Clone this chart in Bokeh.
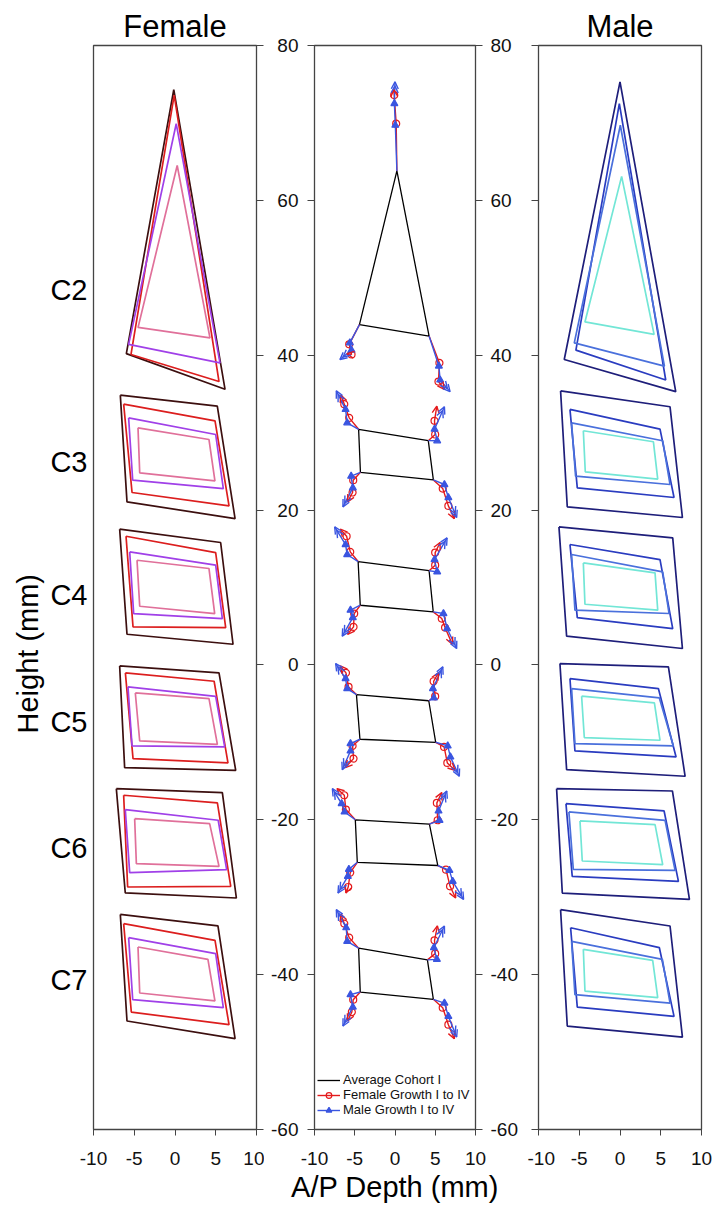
import numpy as np
from bokeh.plotting import figure
from bokeh.layouts import row
from bokeh.models import (ColumnDataSource, FixedTicker, LinearAxis, Title, Arrow,
                          OpenHead, Legend, LegendItem, Range1d, PrintfTickFormatter)
from bokeh.embed import file_html
from bokeh.resources import INLINE

FONT = "Liberation Sans"

# ---------------- data ----------------
levels = ["C2", "C3", "C4", "C5", "C6", "C7"]
level_label_y = [48.4, 26.2, 9.0, -7.4, -23.7, -40.7]
vertex_counts = [3, 4, 4, 4, 4, 4]   # C2: apex, BR, BL ; others: TL, TR, BR, BL
x_ticks = [-10, -5, 0, 5, 10]
y_ticks = [-60, -40, -20, 0, 20, 40, 60, 80]

female_I_x = [0.27, 4.29, -4.53, -4.54, 4.17, 4.90, -4.33, -4.66, 4.17, 4.87, -4.33,
              -4.87, 4.17, 5.20, -4.33, -4.95, 4.25, 5.40, -4.74, -4.54, 4.04, 4.90, -4.33]
female_I_y = [64.5, 42.25, 43.6, 30.62, 29.11, 23.78, 24.81, 13.52, 12.45, 6.63, 7.58,
              -3.62, -4.35, -10.25, -9.82, -19.85, -20.49, -26.01, -25.66, -36.43, -38.02, -43.40, -42.37]
female_II_x = [0.15, 5.52, -5.69, -5.69, 4.99, 5.93, -5.19, -5.56, 4.99, 5.81, -5.07,
               -5.77, 4.99, 6.10, -5.27, -6.10, 5.30, 6.34, -5.56, -5.69, 4.99, 5.93, -5.19]
female_II_y = [69.9, 39.0, 41.4, 31.91, 29.76, 22.78, 23.86, 14.60, 12.88, 5.99, 6.63,
               -2.84, -4.05, -10.59, -10.46, -18.68, -20.06, -26.44, -26.82, -35.22, -37.29, -44.27, -43.23]
female_III_x = [-0.10, 5.40, -5.40, -6.30, 4.91, 6.63, -5.27, -6.01, 4.99, 6.22, -5.15,
                -6.09, 4.80, 6.50, -5.15, -6.30, 5.20, 6.84, -5.81, -6.30, 4.91, 6.63, -5.36]
female_III_y = [73.6, 36.6, 40.1, 33.68, 31.53, 20.54, 22.27, 16.62, 14.51, 4.82, 4.91,
                -1.03, -2.11, -12.66, -12.10, -16.83, -17.82, -28.59, -28.68, -33.41, -35.57, -46.46, -44.83]
female_IV_x = [-0.15, 6.14, -5.97, -6.71, 5.19, 7.37, -5.89, -6.79, 5.60, 7.12, -5.89,
               -6.79, 5.40, 7.45, -6.18, -7.20, 5.81, 7.53, -6.10, -6.71, 5.27, 7.37, -5.89]
female_IV_y = [74.3, 35.6, 40.2, 34.84, 33.42, 18.90, 21.06, 17.53, 15.81, 2.67, 3.96,
               -0.13, -1.03, -13.61, -13.26, -15.97, -16.49, -30.10, -29.45, -32.21, -33.71, -48.27, -45.99]

male_I_x = [0.20, 4.18, -4.30, -4.50, 4.10, 4.63, -4.26, -4.50, 4.30, 4.63, -4.30,
            -4.71, 4.22, 4.91, -4.38, -4.91, 4.30, 5.24, -4.63, -4.50, 4.01, 4.63, -4.30]
male_I_y = [63.1, 42.7, 44.3, 30.24, 28.82, 24.00, 24.94, 13.18, 11.89, 7.07, 7.84,
            -4.04, -4.90, -9.73, -9.38, -20.15, -20.63, -25.80, -25.32, -36.73, -38.16, -42.98, -42.12]
male_II_x = [0.04, 5.45, -5.61, -5.94, 5.24, 6.14, -5.45, -5.94, 5.24, 6.02, -5.53,
             -5.94, 4.83, 6.55, -5.53, -6.27, 5.53, 6.76, -5.73, -5.94, 5.20, 6.14, -5.53]
male_II_y = [69.7, 38.6, 41.6, 31.27, 28.95, 23.30, 24.38, 14.26, 12.02, 6.64, 7.07,
             -3.05, -4.26, -10.46, -10.16, -18.99, -20.07, -26.53, -26.40, -35.70, -38.03, -43.67, -42.59]
male_III_x = [-0.08, 5.61, -5.41, -6.14, 4.91, 6.63, -5.24, -6.14, 4.91, 6.47, -5.24,
              -6.14, 4.71, 6.88, -5.53, -6.63, 5.41, 7.17, -5.86, -6.06, 4.83, 6.63, -5.24]
male_III_y = [72.5, 36.8, 40.66, 33.00, 30.45, 21.62, 22.87, 15.55, 13.61, 4.70, 6.12,
              -1.76, -3.05, -11.88, -11.11, -17.91, -18.86, -27.95, -27.30, -33.94, -36.52, -45.39, -44.19]
male_IV_x = [0.00, 6.84, -6.84, -7.29, 6.14, 7.66, -6.47, -7.49, 6.47, 7.66, -6.55,
             -7.37, 5.94, 7.99, -6.55, -7.78, 6.43, 8.52, -7.08, -7.29, 6.14, 7.66, -6.47]
male_IV_y = [75.3, 35.3, 39.45, 35.40, 33.34, 19.04, 20.42, 17.83, 16.41, 2.12, 3.71,
             0.18, -0.25, -14.38, -13.52, -15.98, -16.28, -30.27, -29.46, -31.61, -33.72, -48.06, -46.64]

female_colors = ["#e0709a", "#a040e8", "#dc1e1e", "#3c0f0f"]   # cohort I..IV
male_colors = ["#72e6d6", "#4a70dc", "#2a3cc0", "#1e1e7a"]
FEM_ARROW = "#e41a1c"
MALE_ARROW = "#3a55e0"
AX = "#444444"

# ---------------- layout constants ----------------
H = 1208
MB_TOP = 45
FRAME_H = 1084
MB_BOT = H - MB_TOP - FRAME_H


def closed_polys(xs_flat):
    out, i = [], 0
    for n in vertex_counts:
        seg = list(xs_flat[i:i + n])
        out.append(seg + seg[:1])
        i += n
    return out


def make_fig(width, mbl, mbr):
    p = figure(width=width, height=H, x_range=Range1d(-10, 10), y_range=Range1d(-60, 80),
               min_border_left=mbl, min_border_right=mbr, min_border_top=MB_TOP,
               min_border_bottom=MB_BOT, output_backend="svg", toolbar_location=None,
               y_axis_location=None)
    p.grid.visible = False
    p.outline_line_color = AX
    p.outline_line_width = 1.3
    p.outline_line_alpha = 1
    p.background_fill_color = "white"
    p.border_fill_color = "white"
    xa = p.xaxis[0]
    xa.ticker = FixedTicker(ticks=x_ticks)
    xa.formatter = PrintfTickFormatter(format="%d")
    xa.major_label_text_font = FONT
    xa.major_label_text_font_size = "19px"
    xa.major_label_text_color = "#111111"
    xa.major_tick_out = 6
    xa.major_tick_in = 0
    xa.major_label_standoff = 16
    xa.axis_line_color = AX
    xa.major_tick_line_color = AX
    xa.minor_tick_line_color = None
    return p


def y_axis(labels, standoff=10):
    ax = LinearAxis(ticker=FixedTicker(ticks=y_ticks), formatter=PrintfTickFormatter(format="%d"),
                    major_tick_out=7, major_tick_in=0,
                    minor_tick_line_color=None, axis_line_color=AX, major_tick_line_color=AX,
                    major_label_text_font=FONT, major_label_text_font_size="19px",
                    major_label_text_color="#111111", major_label_standoff=standoff)
    if not labels:
        ax.major_label_overrides = {t: "" for t in y_ticks}
        ax.major_label_standoff = 0
    return ax


def title(text):
    return Title(text=text, align="center", vertical_align="top", text_font=FONT,
                 text_font_size="31px", text_font_style="normal", text_color="#000000",
                 standoff=0)


# ---------------- Female panel ----------------
p1 = make_fig(264, 93, 8)
p1.add_layout(title("Female"), "above")
for xs_f, ys_f, col in [(female_IV_x, female_IV_y, female_colors[3]),
                        (female_III_x, female_III_y, female_colors[2]),
                        (female_II_x, female_II_y, female_colors[1]),
                        (female_I_x, female_I_y, female_colors[0])]:
    p1.multi_line(closed_polys(xs_f), closed_polys(ys_f), line_color=col, line_width=1.7)
cax = LinearAxis(ticker=FixedTicker(ticks=level_label_y),
                 major_label_overrides={v: n for v, n in zip(level_label_y, levels)},
                 major_tick_line_color=None, minor_tick_line_color=None, axis_line_color=None,
                 major_label_text_font=FONT, major_label_text_font_size="29px",
                 major_label_text_color="#000000", major_label_standoff=0)
p1.add_layout(cax, "left")
p1.add_layout(Title(text="Height (mm)", align="left", offset=396, text_font=FONT,
                    text_font_size="29px", text_font_style="normal", text_color="#000000",
                    standoff=8), "left")
p1.add_layout(y_axis(False), "right")

# ---------------- Middle panel ----------------
p2 = make_fig(263, 50, 52)
p2.add_layout(y_axis(True, 9), "left")
p2.add_layout(y_axis(True, 8), "right")
p2.xaxis[0].axis_label = "A/P Depth (mm)"
p2.xaxis[0].axis_label_text_font = FONT
p2.xaxis[0].axis_label_text_font_size = "29px"
p2.xaxis[0].axis_label_text_font_style = "normal"
p2.xaxis[0].axis_label_text_color = "#000000"
p2.xaxis[0].axis_label_standoff = 3

avg_x = [(a + b) / 2 for a, b in zip(female_I_x, male_I_x)]
avg_y = [(a + b) / 2 for a, b in zip(female_I_y, male_I_y)]
r_avg = p2.multi_line(closed_polys(avg_x), closed_polys(avg_y), line_color="black", line_width=1.3)

KX = 161 / 20.0
KY = FRAME_H / 140.0


def growth(xII, yII, xIII, yIII, xIV, yIV, color, marker, msize, mfill, double):
    xs = [[a, b, c, d] for a, b, c, d in zip(avg_x, xII, xIII, xIV)]
    ys = [[a, b, c, d] for a, b, c, d in zip(avg_y, yII, yIII, yIV)]
    rl = p2.multi_line(xs, ys, line_color=color, line_width=1.4)
    rm = p2.scatter(list(xII) + list(xIII), list(yII) + list(yIII), marker=marker, size=msize,
                    line_color=color, fill_color=mfill, line_width=1.2)
    x0, y0, x1, y1 = map(np.asarray, (xIII, yIII, xIV, yIV))
    src = ColumnDataSource(dict(x0=x0, y0=y0, x1=x1, y1=y1))
    p2.add_layout(Arrow(end=OpenHead(size=7, line_color=color, line_width=1.4),
                        x_start="x0", y_start="y0", x_end="x1", y_end="y1",
                        source=src, line_color=None))
    if double:
        dxp, dyp = (x1 - x0) * KX, (y1 - y0) * KY
        L = np.hypot(dxp, dyp) + 1e-9
        xb = x1 - 4.0 * (dxp / L) / KX
        yb = y1 - 4.0 * (dyp / L) / KY
        src2 = ColumnDataSource(dict(x0=x0, y0=y0, x1=xb, y1=yb))
        p2.add_layout(Arrow(end=OpenHead(size=7, line_color=color, line_width=1.4),
                            x_start="x0", y_start="y0", x_end="x1", y_end="y1",
                            source=src2, line_color=None))
    return rl, rm


f_l, f_m = growth(female_II_x, female_II_y, female_III_x, female_III_y, female_IV_x, female_IV_y,
                  FEM_ARROW, "circle", 7, None, False)
m_l, m_m = growth(male_II_x, male_II_y, male_III_x, male_III_y, male_IV_x, male_IV_y,
                  MALE_ARROW, "triangle", 7, MALE_ARROW, True)

legend = Legend(items=[LegendItem(label="Average Cohort I", renderers=[r_avg]),
                       LegendItem(label="Female Growth I to IV", renderers=[f_l, f_m]),
                       LegendItem(label="Male Growth I to IV", renderers=[m_l, m_m])],
                location=(1, 10), margin=0, padding=2, spacing=0,
                glyph_width=23, glyph_height=14, label_height=14, label_standoff=3,
                label_text_font=FONT, label_text_font_size="13px", label_text_color="#111111",
                background_fill_alpha=0, border_line_alpha=0)
p2.add_layout(legend)

# ---------------- Male panel ----------------
p3 = make_fig(188, 11, 14)
p3.add_layout(title("Male"), "above")
p3.add_layout(y_axis(False), "left")
for xs_m, ys_m, col in [(male_IV_x, male_IV_y, male_colors[3]),
                        (male_III_x, male_III_y, male_colors[2]),
                        (male_II_x, male_II_y, male_colors[1]),
                        (male_I_x, male_I_y, male_colors[0])]:
    p3.multi_line(closed_polys(xs_m), closed_polys(ys_m), line_color=col, line_width=1.7)

layout = row(p1, p2, p3)
open("out.html", "w").write(file_html(layout, INLINE))
